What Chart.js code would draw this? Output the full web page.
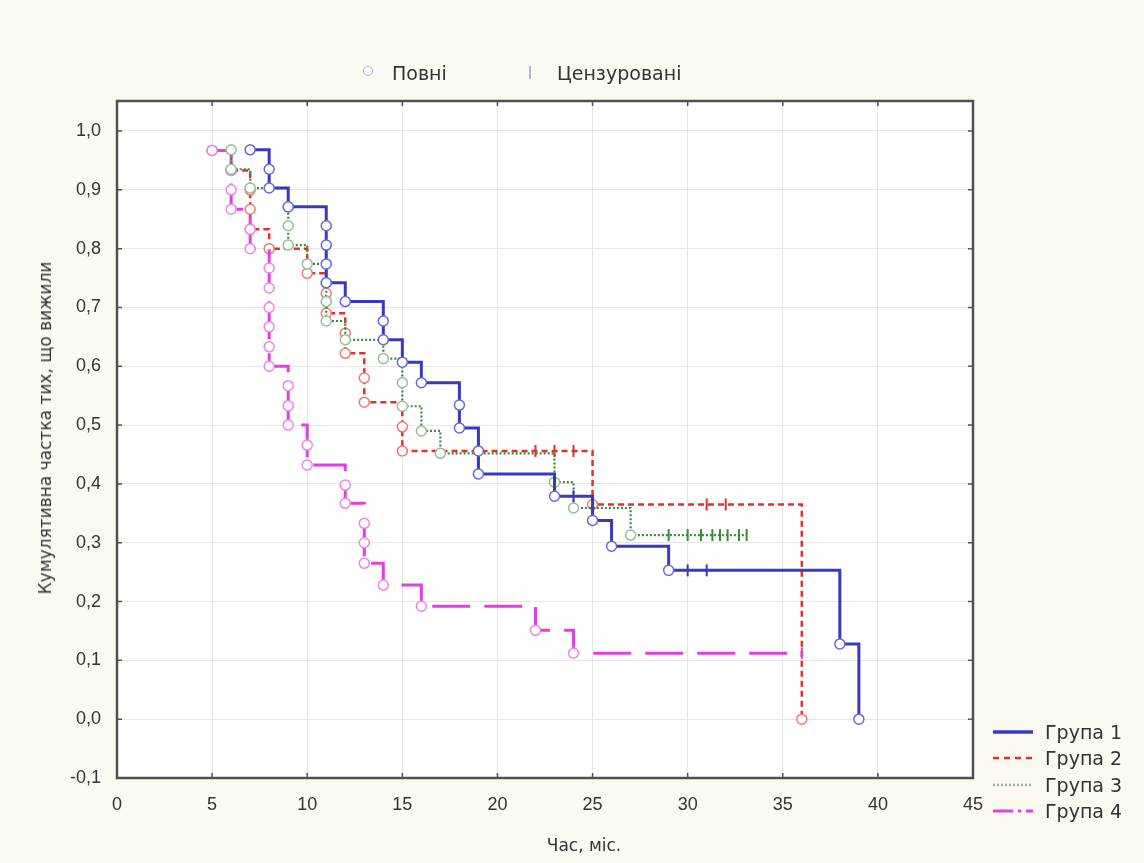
<!DOCTYPE html>
<html lang="uk">
<head>
  <meta charset="UTF-8">
  <title>Кумулятивна частка тих, що вижили</title>
  <script src="https://cdn.jsdelivr.net/npm/chart.js"></script>
  <style>
    body { margin: 0; background: #fcfaf0; }
    #wrap { position: relative; width: 1144px; height: 863px; overflow: hidden; }
    #survChart { position: absolute; left: 0; top: 0; }
    .leg { position: absolute; font-family: "DejaVu Sans", sans-serif; font-size: 19px; color: #333; white-space: nowrap; line-height: 22px; }
    .sym { position: absolute; }
    .axTitle { position: absolute; font-family: "DejaVu Sans", sans-serif; font-size: 17px; color: #333; white-space: nowrap; line-height: 20px; }
  </style>
</head>
<body>
  <div id="wrap">
    <canvas id="survChart" width="1144" height="863"></canvas>

    <!-- top legend -->
    <span class="sym" style="left:363px; top:66px; width:8px; height:8px; border:1.5px solid #b2b2d2; border-radius:50%; background:#fff;"></span>
    <span class="leg" style="left:392px; top:62px;">Повні</span>
    <span class="sym" style="left:529px; top:66px; width:2px; height:13px; background:#b2b2d2;"></span>
    <span class="leg" style="left:557px; top:62px;">Цензуровані</span>

    <!-- axis titles -->
    <div class="axTitle" style="left:584px; top:845px; transform:translate(-50%,-50%);">Час, міс.</div>
    <div class="axTitle" style="left:45px; top:428px; transform:translate(-50%,-50%) rotate(-90deg);">Кумулятивна частка тих, що вижили</div>

    <!-- group legend -->
    <div id="groupLegend"></div>
  </div>

  <script>
    // axis ticks
    const xTickValues = [0, 5, 10, 15, 20, 25, 30, 35, 40, 45];
    const xTickLabels = ['0', '5', '10', '15', '20', '25', '30', '35', '40', '45'];
    const yTickValues = [-0.1, 0, 0.1, 0.2, 0.3, 0.4, 0.5, 0.6, 0.7, 0.8, 0.9, 1.0];
    const yTickLabels = ['-0,1', '0,0', '0,1', '0,2', '0,3', '0,4', '0,5', '0,6', '0,7', '0,8', '0,9', '1,0'];

    const groupNames = ['Група 1', 'Група 2', 'Група 3', 'Група 4'];

    // Група 1
    const g1Time = [7, 8, 8, 9, 11, 11, 11, 11, 12, 14, 14, 15, 16, 18, 18, 19, 19, 23, 24, 25, 26, 29, 30, 31, 38, 39];
    const g1Surv = [0.968, 0.935, 0.903, 0.871, 0.839, 0.806, 0.774, 0.742, 0.710, 0.677, 0.645, 0.607, 0.572, 0.534, 0.495, 0.456, 0.417, 0.379, 0.379, 0.338, 0.294, 0.253, 0.253, 0.253, 0.128, 0.000];
    const g1Cens = [0, 0, 0, 0, 0, 0, 0, 0, 0, 0, 0, 0, 0, 0, 0, 0, 0, 0, 1, 0, 0, 0, 1, 1, 0, 0];

    // Група 2
    const g2Time = [5, 6, 7, 7, 7, 8, 10, 11, 11, 12, 12, 13, 13, 15, 15, 22, 23, 24, 25, 31, 32, 36];
    const g2Surv = [0.967, 0.933, 0.900, 0.867, 0.833, 0.800, 0.758, 0.724, 0.690, 0.656, 0.622, 0.580, 0.539, 0.497, 0.456, 0.456, 0.456, 0.456, 0.365, 0.365, 0.365, 0.000];
    const g2Cens = [0, 0, 0, 0, 0, 0, 0, 0, 0, 0, 0, 0, 0, 0, 0, 1, 1, 1, 0, 1, 1, 0];

    // Група 3
    const g3Time = [6, 6, 7, 9, 9, 9, 10, 11, 11, 11, 12, 14, 15, 15, 16, 17, 23, 24, 25, 27, 29, 30, 30.7, 31.3, 31.7, 32.1, 32.7, 33.1];
    const g3Surv = [0.968, 0.935, 0.903, 0.871, 0.839, 0.806, 0.774, 0.742, 0.710, 0.677, 0.645, 0.613, 0.572, 0.532, 0.490, 0.452, 0.403, 0.359, 0.359, 0.313, 0.313, 0.313, 0.313, 0.313, 0.313, 0.313, 0.313, 0.313];
    const g3Cens = [0, 0, 0, 0, 0, 0, 0, 0, 0, 0, 0, 0, 0, 0, 0, 0, 0, 0, 1, 0, 1, 1, 1, 1, 1, 1, 1, 1];

    // Група 4
    const g4Time = [5, 6, 6, 6, 7, 7, 8, 8, 8, 8, 8, 8, 9, 9, 9, 10, 10, 12, 12, 13, 13, 13, 14, 16, 22, 24, 36];
    const g4Surv = [0.967, 0.933, 0.900, 0.867, 0.833, 0.800, 0.767, 0.733, 0.700, 0.667, 0.633, 0.600, 0.567, 0.533, 0.500, 0.466, 0.432, 0.398, 0.367, 0.333, 0.300, 0.265, 0.228, 0.192, 0.151, 0.112, 0.112];
    const g4Cens = [0, 0, 0, 0, 0, 0, 0, 0, 0, 0, 0, 0, 0, 0, 0, 0, 0, 0, 0, 0, 0, 0, 0, 0, 0, 0, 1];

    const styles = [
      { line: '#3838c4', point: '#6868dc', width: 3, dash: [], order: 0 },
      { line: '#e4302c', point: '#f07878', width: 2.5, dash: [6, 4], order: 3 },
      { line: '#3a8a3a', point: '#94bf94', width: 2.2, dash: [2, 2], order: 1 },
      { line: '#e040e0', point: '#ec84ec', width: 3, dash: [38, 14], order: 2 }
    ];

    function makeSet(i, times, surv, cens) {
      const st = styles[i];
      return {
        label: groupNames[i],
        order: st.order,
        data: times.map((t, k) => ({ x: t, y: surv[k] })),
        stepped: 'before',
        fill: false,
        borderColor: st.line,
        borderWidth: st.width,
        borderDash: st.dash,
        pointStyle: ctx => cens[ctx.dataIndex] ? 'line' : 'circle',
        pointRotation: ctx => cens[ctx.dataIndex] ? 90 : 0,
        pointRadius: ctx => cens[ctx.dataIndex] ? 6 : 5,
        pointBorderColor: ctx => cens[ctx.dataIndex] ? st.line : st.point,
        pointBorderWidth: ctx => cens[ctx.dataIndex] ? 2 : 1.5,
        pointBackgroundColor: '#ffffff'
      };
    }

    const datasets = [
      makeSet(0, g1Time, g1Surv, g1Cens),
      makeSet(1, g2Time, g2Surv, g2Cens),
      makeSet(2, g3Time, g3Surv, g3Cens),
      makeSet(3, g4Time, g4Surv, g4Cens)
    ];

    // white plot area
    const plotBg = {
      id: 'plotBg',
      beforeDraw(chart) {
        const { ctx, chartArea: a } = chart;
        ctx.save();
        ctx.fillStyle = '#ffffff';
        ctx.fillRect(a.left, a.top, a.right - a.left, a.bottom - a.top);
        ctx.restore();
      }
    };

    // frame with small inward ticks
    const frame = {
      id: 'frame',
      afterDraw(chart) {
        const { ctx, chartArea: a, scales } = chart;
        ctx.save();
        ctx.strokeStyle = '#505050';
        ctx.lineWidth = 2.5;
        ctx.strokeRect(a.left, a.top, a.right - a.left, a.bottom - a.top);
        ctx.lineWidth = 1.5;
        ctx.beginPath();
        xTickValues.forEach(v => {
          const px = scales.x.getPixelForValue(v);
          ctx.moveTo(px, a.bottom); ctx.lineTo(px, a.bottom - 5);
          ctx.moveTo(px, a.top); ctx.lineTo(px, a.top + 5);
        });
        yTickValues.forEach(v => {
          const py = scales.y.getPixelForValue(v);
          ctx.moveTo(a.left, py); ctx.lineTo(a.left + 5, py);
          ctx.moveTo(a.right, py); ctx.lineTo(a.right - 5, py);
        });
        ctx.stroke();
        ctx.restore();
      }
    };

    const axisFont = { family: '"Liberation Sans", Arial, sans-serif', size: 18 };

    new Chart(document.getElementById('survChart'), {
      type: 'line',
      data: { datasets: datasets },
      options: {
        responsive: false,
        animation: false,
        events: [],
        layout: { padding: { left: 0, top: 101, right: 171, bottom: 0 } },
        plugins: { legend: { display: false }, tooltip: { enabled: false } },
        scales: {
          x: {
            type: 'linear',
            min: 0,
            max: 45,
            afterFit: s => { s.height = 85; },
            afterBuildTicks: s => { s.ticks = xTickValues.map(v => ({ value: v })); },
            ticks: { font: axisFont, color: '#333', padding: 16, maxRotation: 0, autoSkip: false,
                     callback: (v, i) => xTickLabels[i] },
            grid: { color: '#e6e6e6', lineWidth: 1, drawTicks: false },
            border: { display: false }
          },
          y: {
            type: 'linear',
            min: -0.1,
            max: 1.051,
            afterFit: s => { s.width = 117; },
            afterBuildTicks: s => { s.ticks = yTickValues.map(v => ({ value: v })); },
            ticks: { font: axisFont, color: '#333', padding: 16, autoSkip: false,
                     callback: (v, i) => yTickLabels[i] },
            grid: { color: '#e6e6e6', lineWidth: 1, drawTicks: false },
            border: { display: false }
          }
        }
      },
      plugins: [plotBg, frame]
    });

    // group legend (bottom right)
    const legendRows = [732, 758, 785, 811];
    const legendDash = ['', '6,5', '2,2', '20,5,3,5'];
    const legendColor = ['#3838c4', '#e4302c', '#9cba9c', '#e040e0'];
    const legendWidth = [3.5, 2.5, 2.5, 3];
    const box = document.getElementById('groupLegend');
    groupNames.forEach((name, i) => {
      const y = legendRows[i];
      box.insertAdjacentHTML('beforeend',
        '<svg class="sym" style="left:993px; top:' + (y - 5) + 'px" width="40" height="10">' +
        '<line x1="0" y1="5" x2="40" y2="5" stroke="' + legendColor[i] + '" stroke-width="' + legendWidth[i] + '"' +
        (legendDash[i] ? ' stroke-dasharray="' + legendDash[i] + '"' : '') + '/></svg>' +
        '<span class="leg" style="left:1045px; top:' + (y - 11) + 'px">' + name + '</span>');
    });
  </script>
</body>
</html>
